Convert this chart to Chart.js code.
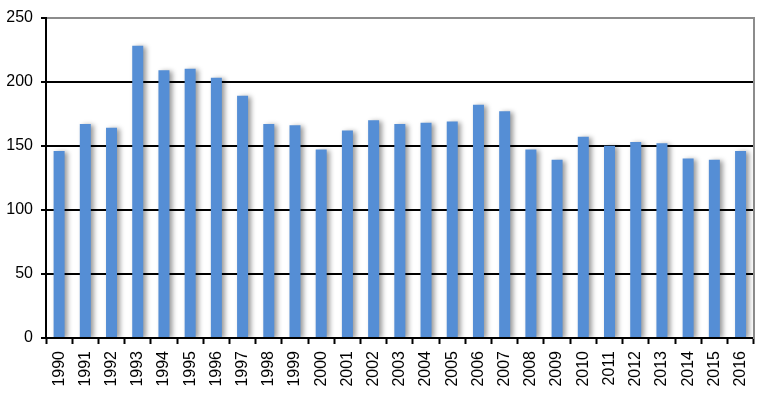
<!DOCTYPE html>
<html><head><meta charset="utf-8">
<script src="https://cdn.jsdelivr.net/npm/chart.js@4"></script>
<style>html,body{margin:0;padding:0;background:#fff}#w{width:767px;height:396px}</style>
</head><body><div id="w"><canvas id="c"></canvas></div>
<script>
const categories = ['1990','1991','1992','1993','1994','1995','1996','1997','1998','1999','2000','2001','2002','2003','2004','2005','2006','2007','2008','2009','2010','2011','2012','2013','2014','2015','2016'];
const values = [146,167,164,228,209,210,203,189,167,166,147,162,170,167,168,169,182,177,147,139,157,150,153,152,140,139,146];
const yTicks = [0,50,100,150,200,250];

const shadow = {
  id:'shadow',
  beforeDatasetsDraw(chart){const c=chart.ctx;c.save();c.shadowColor='rgba(0,0,0,0.4)';c.shadowOffsetX=3;c.shadowOffsetY=1;c.shadowBlur=5;},
  afterDatasetsDraw(chart){chart.ctx.restore();}
};
const font = {family:'"Liberation Sans", Arial, sans-serif', size:16};
new Chart(document.getElementById('c'), {
  type:'bar',
  data:{labels:categories, datasets:[{data:values, backgroundColor:'#558ED5', barPercentage:0.42, categoryPercentage:1}]},
  options:{
    responsive:true, maintainAspectRatio:false, animation:false,
    layout:{padding:{left:0,right:13,top:17,bottom:0}},
    plugins:{legend:{display:false}, tooltip:{enabled:false}},
    scales:{
      x:{offset:true,
        grid:{display:true, drawOnChartArea:false, drawTicks:true, tickLength:6, color:'#000', tickWidth:2, offset:true},
        border:{color:'#000', width:2},
        ticks:{color:'#000', font:font, maxRotation:90, minRotation:90, padding:7, autoSkip:false},
        afterFit(s){s.height=58;}
      },
      y:{min:0, max:250, afterBuildTicks(s){s.ticks=yTicks.map(v=>({value:v}));},
        grid:{color:(ctx)=>ctx.tick && ctx.tick.value===250?'#8c8c8c':'#000', lineWidth:2, tickLength:5, tickColor:'#000'},
        border:{color:'#000', width:2},
        ticks:{color:'#000', font:font, padding:8},
        afterFit(s){s.width=46;}
      },
      y2:{position:'right', min:0, max:250, grid:{drawOnChartArea:false, drawTicks:false}, ticks:{display:false}, border:{color:'#8c8c8c', width:2}, afterFit(s){s.width=0;}}
    }
  },
  plugins:[shadow]
});
</script></body></html>
